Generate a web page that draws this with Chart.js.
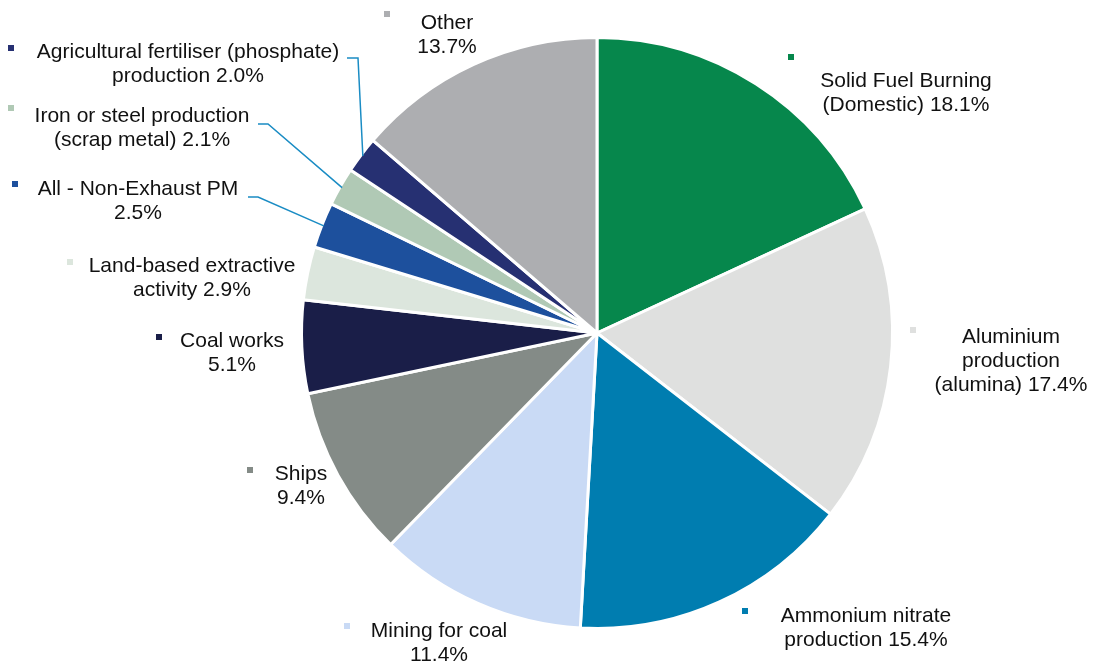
<!DOCTYPE html>
<html>
<head>
<meta charset="utf-8">
<script src="https://cdn.jsdelivr.net/npm/chart.js@4"></script>
<style>
  html, body { margin: 0; padding: 0; background: #fff; }
  #wrap { width: 1096px; height: 663px; }
</style>
</head>
<body>
<div id="wrap"><canvas id="pie" width="1096" height="663"></canvas></div>
<script>
const categories = [
    "Solid Fuel Burning (Domestic)",
    "Aluminium production (alumina)",
    "Ammonium nitrate production",
    "Mining for coal",
    "Ships",
    "Coal works",
    "Land-based extractive activity",
    "All - Non-Exhaust PM",
    "Iron or steel production (scrap metal)",
    "Agricultural fertiliser (phosphate) production",
    "Other"
];

const shares = [18.1, 17.4, 15.4, 11.4, 9.4, 5.1, 2.9, 2.5, 2.1, 2.0, 13.7];

// how each label is broken into lines, {v} is the share
const labelLines = [
    ["Solid Fuel Burning", "(Domestic) {v}"],
    ["Aluminium", "production", "(alumina) {v}"],
    ["Ammonium nitrate", "production {v}"],
    ["Mining for coal", "{v}"],
    ["Ships", "{v}"],
    ["Coal works", "{v}"],
    ["Land-based extractive", "activity {v}"],
    ["All - Non-Exhaust PM", "{v}"],
    ["Iron or steel production", "(scrap metal) {v}"],
    ["Agricultural fertiliser (phosphate)", "production {v}"],
    ["Other", "{v}"]
];

const colors = [
    "#06874c", "#dfe0df", "#007db0", "#c9daf5", "#848b87", "#1a1e48",
    "#dce6dd", "#1d509d", "#b0c9b5", "#263072", "#adaeb1"
];

// label placement: [square x, square y, text centre x, first baseline]
const labelPlace = [
    [788, 54, 906, 87],
    [910, 327, 1011, 343],
    [742, 608, 866, 622],
    [344, 623, 439, 637],
    [247, 467, 301, 480],
    [156, 334, 232, 347],
    [67, 259, 192, 272],
    [12, 181, 138, 195],
    [8, 105, 142, 122],
    [8, 45, 188, 58],
    [384, 11, 447, 29]
];

// leader line elbows for the thin slices (the end is on the slice)
const leaders = {
    7: [[248, 197], [258, 197]],
    8: [[258, 124], [268, 124]],
    9: [[347, 58], [358, 58]]
};

const labelPlugin = {
    id: 'sliceLabels',
    afterDraw(chart) {
        const ctx = chart.ctx;
        const arcs = chart.getDatasetMeta(0).data;
        ctx.save();

        // leader lines
        ctx.strokeStyle = '#1a8cc4';
        ctx.lineWidth = 1.5;
        Object.keys(leaders).forEach(k => {
            const arc = arcs[k];
            const p = arc.getProps(['x', 'y', 'startAngle', 'endAngle', 'outerRadius'], true);
            const mid = (p.startAngle + p.endAngle) / 2;
            const ex = p.x + Math.cos(mid) * (p.outerRadius - 2);
            const ey = p.y + Math.sin(mid) * (p.outerRadius - 2);
            ctx.beginPath();
            leaders[k].forEach((pt, i) => i === 0 ? ctx.moveTo(pt[0], pt[1]) : ctx.lineTo(pt[0], pt[1]));
            ctx.lineTo(ex, ey);
            ctx.stroke();
        });

        ctx.font = '21px "Liberation Sans", Arial, sans-serif';
        ctx.textAlign = 'center';
        ctx.textBaseline = 'alphabetic';
        labelLines.forEach((lines, i) => {
            const [sx, sy, tx, ty] = labelPlace[i];
            ctx.fillStyle = colors[i];
            ctx.fillRect(sx, sy, 6, 6);
            ctx.fillStyle = '#111';
            lines.forEach((ln, j) => {
                ctx.fillText(ln.replace('{v}', shares[i].toFixed(1) + '%'), tx, ty + j * 24);
            });
        });
        ctx.restore();
    }
};

new Chart(document.getElementById('pie'), {
    type: 'pie',
    data: {
        labels: categories,
        datasets: [{
            data: shares,
            backgroundColor: colors,
            borderColor: '#ffffff',
            borderWidth: 3,
            hoverOffset: 0
        }]
    },
    options: {
        responsive: false,
        animation: false,
        layout: { padding: { left: 300, right: 202, top: 36, bottom: 33 } },
        plugins: {
            legend: { display: false },
            tooltip: { enabled: false }
        }
    },
    plugins: [labelPlugin]
});
</script>
</body>
</html>
